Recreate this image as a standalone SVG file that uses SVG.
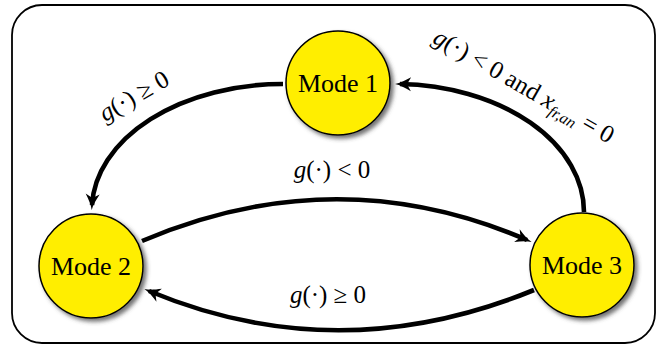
<svg xmlns="http://www.w3.org/2000/svg" width="665" height="348" viewBox="0 0 665 348">
<defs>
<filter id="sh" x="-20%" y="-20%" width="150%" height="150%">
<feDropShadow dx="3" dy="3" stdDeviation="2.2" flood-color="#444" flood-opacity="0.75"/>
</filter>
<marker id="ah" markerUnits="userSpaceOnUse" viewBox="-13 -8 19 16" markerWidth="19" markerHeight="16" refX="0" refY="0" orient="auto">
<path d="M5,0 C0,1 -5,3.5 -11,7 L-7,0 L-11,-7 C-5,-3.5 0,-1 5,0 Z" fill="#000"/>
</marker>
</defs>
<rect x="12" y="5" width="643" height="338" rx="30" ry="30" fill="#fff" stroke="#000" stroke-width="1.8"/>
<g id="connectors" fill="none" stroke="#000" stroke-width="4.6">
<path marker-end="url(#ah)" d="M283,84 A191 126 0 0 0 92,205"/>
<path marker-end="url(#ah)" d="M584,212 A189 128 0 0 0 400,84"/>
<path marker-end="url(#ah)" d="M142,241 Q337,158 527,240"/>
<path marker-end="url(#ah)" d="M534,290 Q338,370 149,291"/>
</g>
<g id="mode1">
<circle fill="#FFEE00" stroke="#000" stroke-width="1.5" filter="url(#sh)" cx="338" cy="83" r="52"/>
<text x="338" y="92" font-family="serif" font-size="26" text-anchor="middle">Mode 1</text>
</g>
<g id="mode2">
<circle fill="#FFEE00" stroke="#000" stroke-width="1.5" filter="url(#sh)" cx="91" cy="266" r="52"/>
<text x="91" y="275" font-family="serif" font-size="26" text-anchor="middle">Mode 2</text>
</g>
<g id="mode3">
<circle fill="#FFEE00" stroke="#000" stroke-width="1.5" filter="url(#sh)" cx="582" cy="265" r="52"/>
<text x="582" y="274" font-family="serif" font-size="26" text-anchor="middle">Mode 3</text>
</g>
<g id="labels">
<text x="138" y="103" font-family="serif" font-size="25" text-anchor="middle" transform="rotate(-30 138 103)"><tspan font-style="italic">g</tspan>(·) ≥ 0</text>
<text x="332" y="178" font-family="serif" font-size="25" text-anchor="middle"><tspan font-style="italic">g</tspan>(·) &lt; 0</text>
<text x="328" y="303" font-family="serif" font-size="25" text-anchor="middle"><tspan font-style="italic">g</tspan>(·) ≥ 0</text>
<text x="520" y="93" font-family="serif" font-size="25" text-anchor="middle" transform="rotate(30 520 93)"><tspan font-style="italic">g</tspan>(·) &lt; 0 and <tspan font-style="italic">x</tspan><tspan font-style="italic" font-size="16" dy="5">fr,an</tspan><tspan dy="-5"> = 0</tspan></text>
</g>
</svg>
